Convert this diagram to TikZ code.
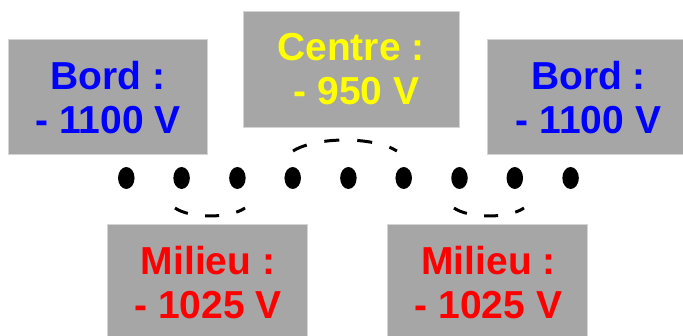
\documentclass[tikz,border=0pt]{standalone}
\usepackage{fontspec}
\setmainfont{Liberation Sans}
\usetikzlibrary{shapes.geometric}
\definecolor{boxgray}{HTML}{A6A6A6}
\definecolor{boxedge}{HTML}{D4D4D4}
\definecolor{bordblue}{HTML}{0000FF}
\definecolor{centreyellow}{HTML}{FFFF00}
\definecolor{milieured}{HTML}{FF0000}
\tikzset{
  panel/.style={rectangle, fill=boxgray, draw=boxedge, line width=0.8pt, inner sep=0pt},
  label/.style={inner sep=0pt, align=center, font=\bfseries\fontsize{39}{44}\selectfont},
  wire/.style={ellipse, fill=black, inner sep=0pt, minimum width=16.5pt, minimum height=22pt},
  bigarc/.style={line width=3pt, dash pattern=on 15pt off 18pt},
  smallarc/.style={line width=3pt, dash pattern=on 14pt off 17.5pt}
}
\begin{document}
\begin{tikzpicture}[x=1pt, y=-1pt]
  \useasboundingbox (0,0) rectangle (683,336);

  % potential panels
  \node[panel, minimum width=199pt, minimum height=115pt] (bordL)   at (107.5,96.5) {};
  \node[panel, minimum width=216pt, minimum height=116pt] (centre)  at (351,69)     {};
  \node[panel, minimum width=201pt, minimum height=115pt] (bordR)   at (587.5,96.5) {};
  \node[panel, minimum width=200pt, minimum height=116pt] (milieuL) at (207,282)    {};
  \node[panel, minimum width=200pt, minimum height=116pt] (milieuR) at (487.5,282)  {};

  % panel texts
  \node[label, text=bordblue]     (tbordL)   at (108,97.8)  {Bord :\\- 1100 V};
  \node[label, text=centreyellow] (tcentre)  at (351,69.3)  {Centre :\\\hspace*{0.278em}- 950 V};
  \node[label, text=bordblue]     (tbordR)   at (588.5,97.8) {Bord :\\- 1100 V};
  \node[label, text=milieured]    (tmilieuL) at (208,283)   {Milieu :\\- 1025 V};
  \node[label, text=milieured]    (tmilieuR) at (488.5,283) {Milieu :\\- 1025 V};

  % row of wires
  \foreach \i/\x in {1/126.3, 2/181.6, 3/237.4, 4/292.7, 5/348.4, 6/403.7, 7/459.5, 8/514.8, 9/570.6}
    \node[wire] (d\i) at (\x,178) {};

  % field arcs between wires
  \coordinate (arcTop)   at (293,151);
  \coordinate (arcLeft)  at (175,208);
  \coordinate (arcRight) at (454,208);
  \draw[bigarc]   (arcTop)   arc[start angle=150, end angle=30,  x radius=60pt, y radius=22pt];
  \draw[smallarc] (arcLeft)  arc[start angle=209, end angle=331, x radius=40pt, y radius=15.5pt];
  \draw[smallarc] (arcRight) arc[start angle=209, end angle=331, x radius=40pt, y radius=15.5pt];
\end{tikzpicture}
\end{document}
